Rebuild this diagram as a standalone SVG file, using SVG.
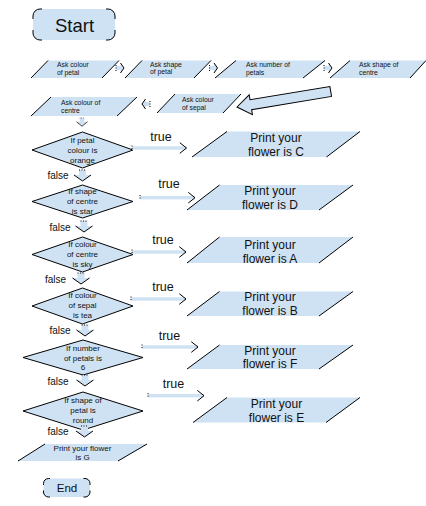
<svg xmlns="http://www.w3.org/2000/svg" xmlns:xlink="http://www.w3.org/1999/xlink" width="426" height="506" viewBox="0 0 426 506">
<style>
.f{fill:#cfe2f3;stroke:none}
.s{fill:none;stroke:#000;stroke-width:1}
.d{fill:#cfe2f3;stroke:#000;stroke-width:1}
.dot{fill:none;stroke:#000;stroke-width:1;stroke-dasharray:1,1.5}
text{font-family:"Liberation Sans",Arial,sans-serif;fill:#111}
.sm{font-size:6.8px}
.dt{font-size:8px;text-anchor:middle}
.pt{font-size:12px;text-anchor:middle}
.tr{font-size:12.5px;text-anchor:middle}
.fl{font-size:10px;text-anchor:middle}
</style>
<defs>
<g id="ra">
<path class="f" d="M0,-2 H4.5 V-5 L8,0 L4.5,5 V2 H0 Z"/>
<polyline class="s" points="4.5,-5 8,0 4.5,5"/>
<line class="dot" x1="0" y1="-3" x2="0" y2="3"/>
</g>
<g id="da">
<path class="f" d="M-3.5,0 H3.5 V5 H8.5 L0,11 L-8.5,5 H-3.5 Z"/>
<polyline class="s" points="-8.5,5 0,11 8.5,5"/>
<line class="dot" x1="-3.5" y1="0" x2="3.5" y2="0"/>
</g>
<g id="th">
<polyline class="s" points="-6.7,-5.3 0,0 -6.7,5.3"/>
</g>
</defs>

<g id="start">
<rect class="f" x="33" y="9" width="82" height="31" rx="7"/>
<path class="s" d="M33,19 V16 A7,7 0 0 1 40,9 H42 M106,9 H108 A7,7 0 0 1 115,16 V19 M115,30 V33 A7,7 0 0 1 108,40 H106 M42,40 H40 A7,7 0 0 1 33,33 V30"/>
<text x="74.5" y="31.5" style="font-size:18.5px;text-anchor:middle">Start</text>
</g>

<g id="ask-colour-petal">
<polygon class="f" points="31,78 48,60.5 119,60.5 102,78"/>
<path class="s" d="M31,78 L48,60.5 M102,78 L119,60.5"/>
<text class="sm" x="57" y="67">Ask colour</text>
<text class="sm" x="57" y="75">of petal</text>
</g>
<g id="ask-shape-petal">
<polygon class="f" points="125,78 142,60.5 211,60.5 194,78"/>
<path class="s" d="M125,78 L142,60.5 M194,78 L211,60.5"/>
<text class="sm" x="150" y="66.5">Ask shape</text>
<text class="sm" x="150" y="74">of petal</text>
</g>
<g id="ask-number-petals">
<polygon class="f" points="215,78 236,60.5 325,60.5 303,78"/>
<path class="s" d="M215,78 L236,60.5 M303,78 L325,60.5"/>
<text class="sm" x="246" y="67">Ask number of</text>
<text class="sm" x="246" y="74.5">petals</text>
</g>
<g id="ask-shape-centre">
<polygon class="f" points="330,78 350,60.5 426,60.5 410,78"/>
<path class="s" d="M330,78 L350,60.5 M410,78 L426,60.5"/>
<text class="sm" x="359" y="67">Ask shape of</text>
<text class="sm" x="359" y="74.5">centre</text>
</g>
<g id="ask-colour-sepal">
<polygon class="f" points="157,113 175,94 241,94 223,113"/>
<path class="s" d="M157,113 L175,94 M223,113 L241,94"/>
<text class="sm" x="182" y="101.5">Ask colour</text>
<text class="sm" x="182" y="110">of sepal</text>
</g>
<g id="ask-colour-centre">
<polygon class="f" points="31,116 51,97 137,97 117,116"/>
<path class="s" d="M31,116 L51,97 M117,116 L137,97"/>
<text class="sm" x="61" y="105">Ask colour of</text>
<text class="sm" x="61" y="113">centre</text>
</g>

<g id="if-petal-orange">
<polygon class="d" points="32,150 82.5,132 133,150 82.5,168"/>
<text class="dt" x="82.5" y="142.5">If petal</text>
<text class="dt" x="82.5" y="152.5">colour is</text>
<text class="dt" x="82.5" y="162.5">orange</text>
</g>
<g id="if-centre-star">
<polygon class="d" points="32,201.5 82.5,185 133,201.5 82.5,218"/>
<text class="dt" x="82.5" y="194">If shape</text>
<text class="dt" x="82.5" y="204">of centre</text>
<text class="dt" x="82.5" y="214">is star</text>
</g>
<g id="if-centre-sky">
<polygon class="d" points="32,254.5 82.5,237 133,254.5 82.5,272"/>
<text class="dt" x="82.5" y="246.7">If colour</text>
<text class="dt" x="82.5" y="256.7">of centre</text>
<text class="dt" x="82.5" y="266.7">is sky</text>
</g>
<g id="if-sepal-tea">
<polygon class="d" points="32,306 82.5,288 133,306 82.5,324"/>
<text class="dt" x="82.5" y="298.4">If colour</text>
<text class="dt" x="82.5" y="308.4">of sepal</text>
<text class="dt" x="82.5" y="318.4">is tea</text>
</g>
<g id="if-petals-6">
<polygon class="d" points="23,357.5 83,340 143,357.5 83,375"/>
<text class="dt" x="83" y="350.7">If number</text>
<text class="dt" x="83" y="360.7">of petals is</text>
<text class="dt" x="83" y="369.7">6</text>
</g>
<g id="if-petal-round">
<polygon class="d" points="23,411 83,392 143,411 83,430"/>
<text class="dt" x="83" y="403">If shape of</text>
<text class="dt" x="83" y="413">petal is</text>
<text class="dt" x="83" y="423">round</text>
</g>

<g id="print-c">
<polygon class="f" points="192,157 227,131.5 360,131.5 326.5,157"/>
<path class="s" d="M192,157 L227,131.5 M326.5,157 L360,131.5"/>
<text class="pt" x="276" y="142">Print your</text>
<text class="pt" x="276" y="156">flower is C</text>
</g>
<g id="print-d">
<polygon class="f" points="187,210 219.5,185 353,185 319,210"/>
<path class="s" d="M187,210 L219.5,185 M319,210 L353,185"/>
<text class="pt" x="270" y="195.3">Print your</text>
<text class="pt" x="270" y="208.7">flower is D</text>
</g>
<g id="print-a">
<polygon class="f" points="187,263 219.5,237 353,237 319,263"/>
<path class="s" d="M187,263 L219.5,237 M319,263 L353,237"/>
<text class="pt" x="270" y="248.6">Print your</text>
<text class="pt" x="270" y="262.5">flower is A</text>
</g>
<g id="print-b">
<polygon class="f" points="187,316 219.5,291.5 353,291.5 319,316"/>
<path class="s" d="M187,316 L219.5,291.5 M319,316 L353,291.5"/>
<text class="pt" x="270" y="301.3">Print your</text>
<text class="pt" x="270" y="315">flower is B</text>
</g>
<g id="print-f">
<polygon class="f" points="187,369 219.5,345 353,345 319,369"/>
<path class="s" d="M187,369 L219.5,345 M319,369 L353,345"/>
<text class="pt" x="270" y="354.6">Print your</text>
<text class="pt" x="270" y="368.3">flower is F</text>
</g>
<g id="print-e">
<polygon class="f" points="193,422.5 227,397.5 360,397.5 326,422.5"/>
<path class="s" d="M193,422.5 L227,397.5 M326,422.5 L360,397.5"/>
<text class="pt" x="276.5" y="408">Print your</text>
<text class="pt" x="276.5" y="421.7">flower is E</text>
</g>
<g id="print-g">
<polygon class="f" points="18,461 45,444 147,444 118,461"/>
<path class="s" d="M18,461 L45,444 M118,461 L147,444"/>
<text x="82.5" y="450.5" style="font-size:8px;text-anchor:middle">Print your flower</text>
<text x="82.5" y="460" style="font-size:8px;text-anchor:middle">is G</text>
</g>

<g id="end">
<rect class="f" x="43.5" y="478.5" width="46.5" height="18.5" rx="5"/>
<path class="s" d="M43.5,485 V483.5 A5,5 0 0 1 48.5,478.5 H50 M83.5,478.5 H85 A5,5 0 0 1 90,483.5 V485 M90,490.5 V492 A5,5 0 0 1 85,497 H83.5 M50,497 H48.5 A5,5 0 0 1 43.5,492 V490.5"/>
<text x="67" y="492" style="font-size:11.6px;text-anchor:middle">End</text>
</g>

<g id="connectors">
<use xlink:href="#ra" x="116" y="68"/>
<use xlink:href="#ra" x="209.5" y="68"/>
<use xlink:href="#ra" x="324" y="68"/>
<path class="d" transform="translate(237,107) rotate(-9.4)" d="M0,0 L14,-10 L14,-5 L95,-5 L95,5 L14,5 L14,10 Z"/>
<use xlink:href="#ra" transform="translate(150,104) rotate(180)"/>
<g transform="translate(82,118) scale(0.65,0.75)"><use xlink:href="#da"/></g>

<rect class="f" x="132" y="146.3" width="54.5" height="3.4"/>
<line class="dot" x1="132" y1="145.5" x2="132" y2="150.5"/>
<use xlink:href="#th" x="186.5" y="148"/>
<rect class="f" x="140" y="196" width="55" height="3.4"/>
<line class="dot" x1="140" y1="195" x2="140" y2="200"/>
<use xlink:href="#th" x="195" y="197.7"/>
<rect class="f" x="132" y="250.3" width="54" height="3.4"/>
<line class="dot" x1="132" y1="249.5" x2="132" y2="254.5"/>
<use xlink:href="#th" x="186" y="252"/>
<rect class="f" x="131" y="297.3" width="55" height="3.4"/>
<line class="dot" x1="131" y1="296.5" x2="131" y2="301.5"/>
<use xlink:href="#th" x="186" y="299"/>
<rect class="f" x="142" y="345.3" width="56" height="3.4"/>
<line class="dot" x1="142" y1="344.5" x2="142" y2="349.5"/>
<use xlink:href="#th" x="198" y="347"/>
<rect class="f" x="148" y="394" width="56" height="3.4"/>
<line class="dot" x1="148" y1="393.2" x2="148" y2="398.2"/>
<use xlink:href="#th" x="204" y="395.7"/>

<text class="tr" x="161" y="140.7">true</text>
<text class="tr" x="169" y="188">true</text>
<text class="tr" x="163" y="244">true</text>
<text class="tr" x="163" y="290.5">true</text>
<text class="tr" x="169.5" y="340">true</text>
<text class="tr" x="173.5" y="388">true</text>

<use xlink:href="#da" x="82.5" y="170"/>
<use xlink:href="#da" x="84" y="221"/>
<use xlink:href="#da" x="81" y="273"/>
<use xlink:href="#da" x="85" y="325"/>
<use xlink:href="#da" x="85" y="375"/>
<use xlink:href="#da" x="84.5" y="426"/>

<text class="fl" x="58" y="179">false</text>
<text class="fl" x="60" y="230.5">false</text>
<text class="fl" x="55.5" y="282.5">false</text>
<text class="fl" x="60" y="334">false</text>
<text class="fl" x="58" y="385">false</text>
<text class="fl" x="58" y="435">false</text>
</g>
</svg>
